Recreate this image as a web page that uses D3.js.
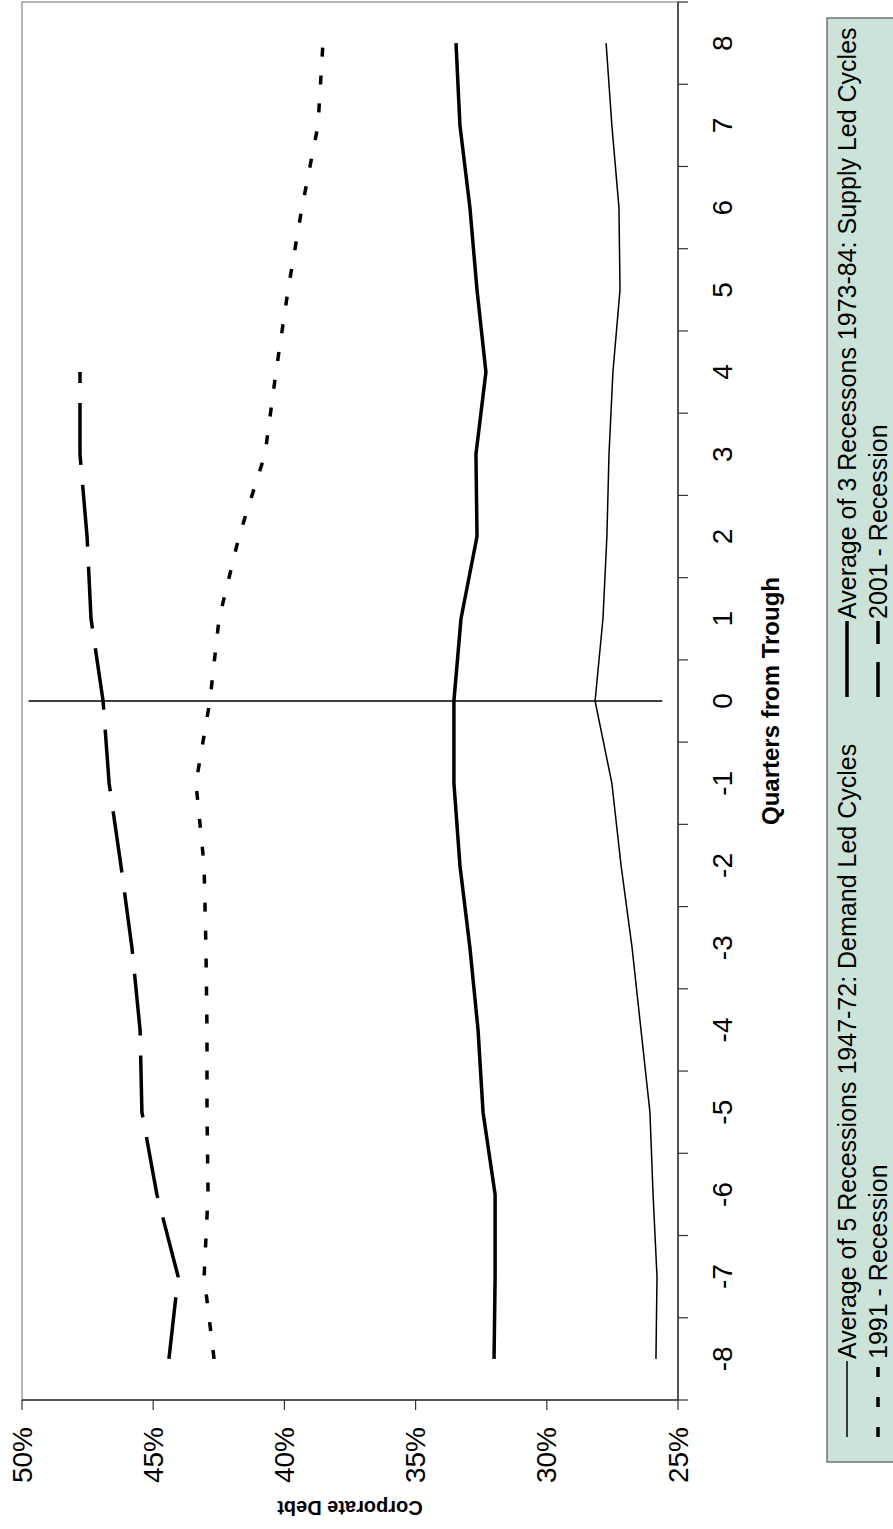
<!DOCTYPE html>
<html>
<head>
<meta charset="utf-8">
<script src="https://cdn.jsdelivr.net/npm/d3@7"></script>
<style>
  body { margin: 0; background: #fff; }
  svg { display: block; font-family: "Liberation Sans", Arial, sans-serif; }
</style>
</head>
<body>
<div id="chart"></div>
<script>
// Quarters from trough (category axis)
const quarters = [-8, -7, -6, -5, -4, -3, -2, -1, 0, 1, 2, 3, 4, 5, 6, 7, 8];
const yTicks = [25, 30, 35, 40, 45, 50];

// Corporate debt, percent
const demandLed = [25.84, 25.80, 25.95, 26.07, 26.41, 26.75, 27.17, 27.52, 28.16, 27.86, 27.71, 27.63, 27.48, 27.21, 27.25, 27.52, 27.74];
const supplyLed = [32.01, 31.97, 31.97, 32.43, 32.62, 32.93, 33.31, 33.54, 33.54, 33.27, 32.66, 32.70, 32.32, 32.66, 32.93, 33.31, 33.46];
const rec1991 = [42.68, 43.06, 42.91, 42.95, 42.95, 42.99, 43.06, 43.37, 42.84, 42.49, 41.73, 40.74, 40.32, 39.86, 39.33, 38.72, 38.53];
const rec2001 = [44.40, 44.05, 44.86, 45.43, 45.50, 45.81, 46.23, 46.68, 46.91, 47.37, 47.52, 47.79, 47.79];

const series = [
  {name: "Average of 5 Recessions 1947-72: Demand Led Cycles", values: demandLed, width: 1.5, dash: null, legendDash: null},
  {name: "Average of 3 Recessons 1973-84: Supply Led Cycles", values: supplyLed, width: 3.5, dash: null, legendDash: null},
  {name: "1991 - Recession", values: rec1991, width: 3.5, dash: "9,19", legendDash: "10,20"},
  {name: "2001 - Recession", values: rec2001, width: 3.5, dash: "62,20", legendDash: "35,18"}
];

// trough marker line, from/to in percent
const troughLine = {q: 0, from: 49.75, to: 25.6};

// The chart is laid out unrotated (W x H) then turned a quarter turn.
const W = 1529, H = 893;
const plot = {left: 129, right: 1527, top: 22, bottom: 678};

const svg = d3.select("#chart").append("svg")
    .attr("width", H)
    .attr("height", W);

const g = svg.append("g")
    .attr("transform", `translate(0,${W}) rotate(-90)`);

const x = d3.scaleBand().domain(quarters).range([plot.left, plot.right]);
const y = d3.scaleLinear().domain([25, 50]).range([plot.bottom, plot.top]);
const cx = q => x(q) + x.bandwidth() / 2;

// plot frame (grey right/top borders)
g.append("rect")
    .attr("x", plot.left).attr("y", plot.top)
    .attr("width", plot.right - plot.left).attr("height", plot.bottom - plot.top)
    .attr("fill", "none").attr("stroke", "#888").attr("stroke-width", 1.2);

// x axis (category boundaries as ticks)
const xAxis = g.append("g").attr("transform", `translate(0,${plot.bottom})`);
xAxis.append("line").attr("x1", plot.left).attr("x2", plot.right).attr("stroke", "#333").attr("stroke-width", 1.5);
quarters.concat([null]).forEach((q, i) => {
  const xp = i < quarters.length ? x(q) : plot.right;
  xAxis.append("line").attr("x1", xp).attr("x2", xp).attr("y1", 0).attr("y2", 10)
      .attr("stroke", "#333").attr("stroke-width", 1.2);
});
xAxis.selectAll("text.tick").data(quarters).enter().append("text")
    .attr("class", "tick")
    .attr("x", d => cx(d)).attr("y", 44)
    .attr("text-anchor", "middle").attr("dominant-baseline", "central")
    .style("font-size", "28px")
    .text(d => d);

g.append("text")
    .attr("x", (plot.left + plot.right) / 2).attr("y", 770)
    .attr("text-anchor", "middle").attr("dominant-baseline", "central")
    .style("font-size", "24px").style("font-weight", "bold")
    .text("Quarters from Trough");

// y axis
const yAxis = g.append("g").attr("transform", `translate(${plot.left},0)`);
yAxis.append("line").attr("y1", plot.top).attr("y2", plot.bottom).attr("stroke", "#333").attr("stroke-width", 1.5);
yAxis.selectAll("line.tk").data(yTicks).enter().append("line")
    .attr("class", "tk")
    .attr("x1", -10).attr("x2", 0).attr("y1", d => y(d)).attr("y2", d => y(d))
    .attr("stroke", "#333").attr("stroke-width", 1.2);
yAxis.selectAll("text").data(yTicks).enter().append("text")
    .attr("x", -27).attr("y", d => y(d))
    .attr("text-anchor", "end").attr("dominant-baseline", "central")
    .style("font-size", "28px")
    .text(d => d + "%");

g.append("text")
    .attr("transform", `translate(21,${(plot.top + plot.bottom) / 2}) rotate(-90)`)
    .attr("text-anchor", "middle").attr("dominant-baseline", "central")
    .style("font-size", "20px").style("font-weight", "bold")
    .text("Corporate Debt");

// trough line
g.append("line")
    .attr("x1", cx(troughLine.q)).attr("x2", cx(troughLine.q))
    .attr("y1", y(troughLine.from)).attr("y2", y(troughLine.to))
    .attr("stroke", "#000").attr("stroke-width", 1.5);

// series
const line = d3.line().x((d, i) => cx(quarters[i])).y(d => y(d));
series.forEach(s => {
  g.append("path")
      .attr("d", line(s.values))
      .attr("fill", "none")
      .attr("stroke", "#000")
      .attr("stroke-width", s.width)
      .attr("stroke-dasharray", s.dash)
      .attr("stroke-linejoin", "round");
});

// legend
const legend = g.append("g");
legend.append("rect")
    .attr("x", 67).attr("y", 827).attr("width", 1444).attr("height", 90)
    .attr("fill", "#cce3d9").attr("stroke", "#555").attr("stroke-width", 1.2);
const legendPos = [
  {x: 92, y: 847}, {x: 832, y: 847}, {x: 92, y: 878}, {x: 832, y: 878}
];
series.forEach((s, i) => {
  const p = legendPos[i];
  legend.append("line")
      .attr("x1", p.x).attr("x2", p.x + 76).attr("y1", p.y).attr("y2", p.y)
      .attr("stroke", "#000").attr("stroke-width", s.width)
      .attr("stroke-dasharray", s.legendDash);
  legend.append("text")
      .attr("x", p.x + 78).attr("y", p.y)
      .attr("dominant-baseline", "central")
      .style("font-size", "25px")
      .text(s.name);
});
</script>
</body>
</html>
